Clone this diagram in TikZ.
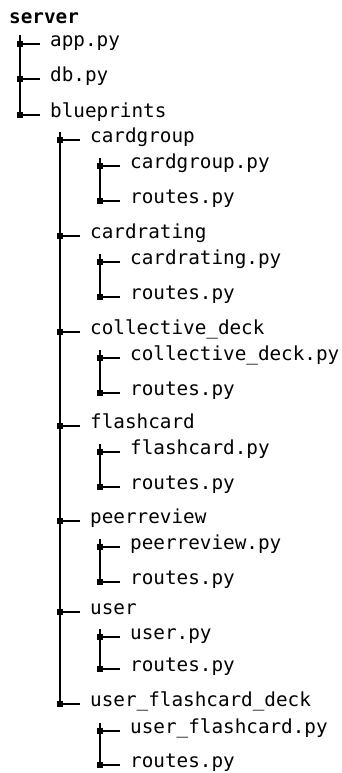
\documentclass[tikz,border=0pt]{standalone}
\usepackage{fontspec}
\newfontfamily\dvmono{DejaVu Sans Mono}
\begin{document}
\begin{tikzpicture}[x=1pt,y=-1pt,
  item/.style={anchor=mid west,inner xsep=10pt,inner ysep=0pt,font=\dvmono\fontsize{19.3}{22}\selectfont},
  rootitem/.style={anchor=mid west,inner sep=0pt,font=\dvmono\bfseries\fontsize{19.3}{22}\selectfont},
  sq/.style={fill=black,draw=none,minimum size=6.5pt,inner sep=0pt},
  branch/.style={line width=1.4pt,black},
  trunk/.style={line width=1.8pt,black}]
\useasboundingbox (0,0) rectangle (342,773);
% root
\node[rootitem] (root) at (9,21) {server};
% level 1
\node[sq] (s-app) at (20,44) {};
\node[item] (t-app) at (40,44) {app.py};
\node[sq] (s-db) at (20,79) {};
\node[item] (t-db) at (40,79) {db.py};
\node[sq] (s-bp) at (20,115) {};
\node[item] (t-bp) at (40,115) {blueprints};
\coordinate (top1) at (20,35);
% level 2
\coordinate (top2) at (60,132);
\node[sq] (s-cg) at (60,140) {};
\node[item] (t-cg) at (80,140) {cardgroup};
\node[sq] (s-cr) at (60,236) {};
\node[item] (t-cr) at (80,236) {cardrating};
\node[sq] (s-cd) at (60,332) {};
\node[item] (t-cd) at (80,332) {collective\_deck};
\node[sq] (s-fc) at (60,426) {};
\node[item] (t-fc) at (80,426) {flashcard};
\node[sq] (s-pr) at (60,521) {};
\node[item] (t-pr) at (80,521) {peerreview};
\node[sq] (s-us) at (60,612) {};
\node[item] (t-us) at (80,612) {user};
\node[sq] (s-ufd) at (60,704) {};
\node[item] (t-ufd) at (80,704) {user\_flashcard\_deck};
% level 3
\coordinate (top-cg) at (100,158);
\node[sq] (s-cg1) at (100,166) {};
\node[item] (t-cg1) at (120,166) {cardgroup.py};
\node[sq] (s-cg2) at (100,201) {};
\node[item] (t-cg2) at (120,201) {routes.py};
\coordinate (top-cr) at (100,254);
\node[sq] (s-cr1) at (100,262) {};
\node[item] (t-cr1) at (120,262) {cardrating.py};
\node[sq] (s-cr2) at (100,297) {};
\node[item] (t-cr2) at (120,297) {routes.py};
\coordinate (top-cd) at (100,350);
\node[sq] (s-cd1) at (100,358) {};
\node[item] (t-cd1) at (120,358) {collective\_deck.py};
\node[sq] (s-cd2) at (100,393) {};
\node[item] (t-cd2) at (120,393) {routes.py};
\coordinate (top-fc) at (100,444);
\node[sq] (s-fc1) at (100,452) {};
\node[item] (t-fc1) at (120,452) {flashcard.py};
\node[sq] (s-fc2) at (100,487) {};
\node[item] (t-fc2) at (120,487) {routes.py};
\coordinate (top-pr) at (100,539);
\node[sq] (s-pr1) at (100,547) {};
\node[item] (t-pr1) at (120,547) {peerreview.py};
\node[sq] (s-pr2) at (100,582) {};
\node[item] (t-pr2) at (120,582) {routes.py};
\coordinate (top-us) at (100,629);
\node[sq] (s-us1) at (100,637) {};
\node[item] (t-us1) at (120,637) {user.py};
\node[sq] (s-us2) at (100,669) {};
\node[item] (t-us2) at (120,669) {routes.py};
\coordinate (top-ufd) at (100,723);
\node[sq] (s-ufd1) at (100,731) {};
\node[item] (t-ufd1) at (120,731) {user\_flashcard.py};
\node[sq] (s-ufd2) at (100,765) {};
\node[item] (t-ufd2) at (120,765) {routes.py};
% trunks
\draw[trunk] (top1) -- (s-bp.center);
\draw[trunk] (top2) -- (s-ufd.center);
\foreach \g in {cg,cr,cd,fc,pr,us,ufd}{
  \draw[trunk] (top-\g) -- (s-\g2.center);
}
% branches
\foreach \n in {app,db,bp,cg,cr,cd,fc,pr,us,ufd,cg1,cg2,cr1,cr2,cd1,cd2,fc1,fc2,pr1,pr2,us1,us2,ufd1,ufd2}{
  \draw[branch] (s-\n.center) -- (t-\n.mid west);
}
% squares on top
\foreach \n in {app,db,bp,cg,cr,cd,fc,pr,us,ufd,cg1,cg2,cr1,cr2,cd1,cd2,fc1,fc2,pr1,pr2,us1,us2,ufd1,ufd2}{
  \fill (s-\n.south west) rectangle (s-\n.north east);
}
\end{tikzpicture}
\end{document}
